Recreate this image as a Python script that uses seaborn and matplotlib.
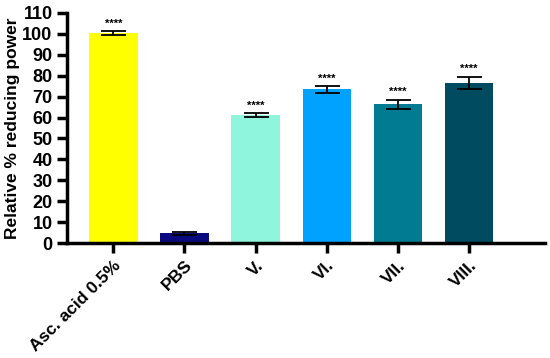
import matplotlib
matplotlib.use("Agg")
import matplotlib.pyplot as plt
import seaborn as sb
import pandas as pd

groups = ["Asc. acid 0.5%", "PBS", "V.", "VI.", "VII.", "VIII."]
means = [100.2, 4.6, 61.2, 73.4, 66.3, 76.6]
errs = [1.0, 0.8, 1.0, 1.5, 2.2, 3.0]
stars = ["****", "", "****", "****", "****", "****"]
colors = ["#FFFF00", "#0A0A80", "#8FF5DC", "#00A2FF", "#007B92", "#004B60"]

df = pd.DataFrame({"group": groups, "value": means})

plt.rcParams["font.family"] = ["Liberation Sans", "DejaVu Sans"]
fig = plt.figure(figsize=(5.5, 3.58), dpi=100)
ax = fig.add_axes([0.122, 0.321, 0.869, 0.643])

sb.barplot(data=df, x="group", y="value", hue="group", palette=colors,
           legend=False, width=0.68, saturation=1, ax=ax)
ax.errorbar(range(len(groups)), means, yerr=errs, fmt="none",
            ecolor="black", elinewidth=1.3, capsize=9, capthick=1.3)
for i, s in enumerate(stars):
    if s:
        ax.text(i, means[i] + errs[i] + 1.2, s, ha="center", va="bottom",
                fontsize=8, fontweight="bold")

ax.set_ylim(0, 110)
ax.set_xlim(-0.65, 6.07)
ax.set_yticks(range(0, 111, 10))
ax.set_xlabel("")
ax.set_ylabel("Relative % reducing power", fontsize=12.5, fontweight="bold")
ax.yaxis.set_label_coords(-0.098, 0.5)
ax.tick_params(axis="both", width=2.5, length=7, labelsize=13)
for lab in ax.get_yticklabels():
    lab.set_fontweight("bold")
ax.set_xticks(range(len(groups)))
ax.set_xticklabels(groups, rotation=45, ha="right", rotation_mode="anchor",
                   fontweight="bold", fontsize=12.5)
for sp in ["top", "right"]:
    ax.spines[sp].set_visible(False)
for sp in ["left", "bottom"]:
    ax.spines[sp].set_linewidth(2.5)

fig.savefig("out.png", dpi=100)
